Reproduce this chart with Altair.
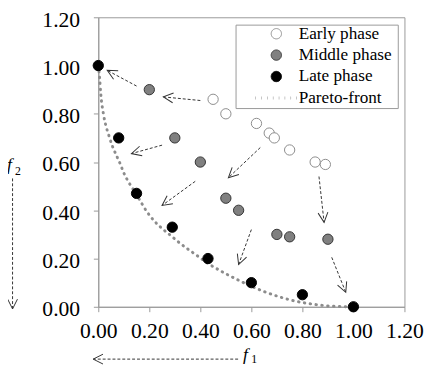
import math
import altair as alt
import pandas as pd

# ---------------- data ----------------
phases = ["Early phase", "Middle phase", "Late phase", "Pareto-front"]

early_f1 = [0.45, 0.50, 0.62, 0.67, 0.69, 0.75, 0.85, 0.89]
early_f2 = [0.86, 0.80, 0.76, 0.72, 0.70, 0.65, 0.60, 0.59]

middle_f1 = [0.20, 0.30, 0.40, 0.50, 0.55, 0.70, 0.75, 0.90]
middle_f2 = [0.90, 0.70, 0.60, 0.45, 0.40, 0.30, 0.29, 0.28]

late_f1 = [0.00, 0.08, 0.15, 0.29, 0.43, 0.60, 0.80, 1.00]
late_f2 = [1.00, 0.70, 0.47, 0.33, 0.20, 0.10, 0.05, 0.00]

front_f1 = [0.0, 0.005, 0.01, 0.02, 0.03, 0.04, 0.055, 0.07, 0.085, 0.10, 0.12,
            0.15, 0.19, 0.22, 0.255, 0.29, 0.31, 0.35, 0.39, 0.43, 0.50, 0.55,
            0.60, 0.65, 0.72, 0.77, 0.84, 0.92, 1.00]
front_f2 = [1.0, 0.95, 0.88, 0.80, 0.75, 0.715, 0.667, 0.63, 0.595, 0.555, 0.515,
            0.465, 0.395, 0.355, 0.32, 0.29, 0.272, 0.24, 0.21, 0.18, 0.137, 0.11,
            0.085, 0.063, 0.038, 0.024, 0.011, 0.002, 0.0]

# movement arrows (from -> to)
arrow_f1_from = [0.40, 0.15, 0.25, 0.635, 0.38, 0.865, 0.60, 0.915]
arrow_f2_from = [0.855, 0.915, 0.67, 0.66, 0.52, 0.54, 0.32, 0.205]
arrow_f1_to = [0.255, 0.035, 0.13, 0.51, 0.25, 0.885, 0.55, 0.97]
arrow_f2_to = [0.87, 0.98, 0.635, 0.535, 0.42, 0.35, 0.175, 0.06]

# axis direction arrows (outside the plot area)
axis_arrow_f1_from = [0.548, -0.336]
axis_arrow_f2_from = [-0.217, 0.532]
axis_arrow_f1_to = [-0.02, -0.336]
axis_arrow_f2_to = [-0.217, -0.009]

# axis names: italic f with subscript index
name_text = ["f", "f"]
name_f1 = [0.567, -0.358]
name_f2 = [-0.219, 0.565]
sub_text = ["1", "2"]
sub_f1 = [0.600, -0.326]
sub_f2 = [-0.235, 0.548]

tick_values = [0.0, 0.2, 0.4, 0.6, 0.8, 1.0, 1.2]

# ---------------- layout / styles ----------------
W, H = 312, 295
DOMAIN = [0, 1.2]
PX_X = W / (DOMAIN[1] - DOMAIN[0])
PX_Y = H / (DOMAIN[1] - DOMAIN[0])
FONT = "Liberation Serif"
GRAY = "#999999"
LEGEND_BOX = dict(left=140.4, right=305.7, top=8, bottom=93)  # px, relative to plot

fill_colors = ["#ffffff", "#808080", "#000000", "transparent"]
stroke_colors = ["#8c8c8c", "#333333", "#000000", "#8c8c8c"]

points = pd.DataFrame({
    "f1": early_f1 + middle_f1 + late_f1,
    "f2": early_f2 + middle_f2 + late_f2,
    "phase": [phases[0]] * len(early_f1) + [phases[1]] * len(middle_f1) + [phases[2]] * len(late_f1),
})
front = pd.DataFrame({"f1": front_f1, "f2": front_f2})

arrows = pd.DataFrame({
    "x0": arrow_f1_from + axis_arrow_f1_from,
    "y0": arrow_f2_from + axis_arrow_f2_from,
    "x1": arrow_f1_to + axis_arrow_f1_to,
    "y1": arrow_f2_to + axis_arrow_f2_to,
})
arrows["angle"] = [
    math.degrees(math.atan2(-(r.y1 - r.y0) * PX_Y, (r.x1 - r.x0) * PX_X)) % 360
    for r in arrows.itertuples()
]
names = pd.DataFrame({"t": name_text, "x": name_f1, "y": name_f2})
subs = pd.DataFrame({"t": sub_text, "x": sub_f1, "y": sub_f2})

xs = alt.Scale(domain=DOMAIN, nice=False, zero=False)
ys = alt.Scale(domain=DOMAIN, nice=False, zero=False)

axis_common = dict(values=tick_values, format=".2f", title=None, grid=False,
                   labelFont=FONT, labelFontSize=22, labelColor="black",
                   tickColor=GRAY, domainColor=GRAY, tickSize=5,
                   labelFlush=False, labelOverlap=False, labelBound=False)
x_axis = alt.Axis(labelPadding=9, **axis_common)
y_axis = alt.Axis(labelPadding=14, labelOffset=2, **axis_common)

X = lambda f: alt.X(f, type="quantitative", scale=xs, axis=x_axis)
Y = lambda f: alt.Y(f, type="quantitative", scale=ys, axis=y_axis)

front_line = alt.Chart(front).mark_line(
    color="#8c8c8c", strokeWidth=3, strokeDash=[0.5, 5.5], strokeCap="round",
    interpolate="monotone"
).encode(x=X("f1"), y=Y("f2"), order=alt.Order("f1:Q"))

shafts = alt.Chart(arrows).mark_rule(
    color="#333333", strokeWidth=1, strokeDash=[3, 2]
).encode(x=X("x0"), y=Y("y0"), x2="x1", y2="y1")

heads = alt.Chart(arrows).mark_point(
    shape="M-1,-0.5L0,0L-1,0.5", filled=False, size=400, color="#333333",
    strokeWidth=1, opacity=1
).encode(x=X("x1"), y=Y("y1"), angle=alt.Angle("angle:Q", scale=None))

is_front = "datum.value === 'Pareto-front'"
legend = alt.Legend(
    orient="none", legendX=172.7, legendY=8, title=None,
    padding=0, symbolSize=110, symbolOffset=0, labelOffset=14,
    labelFont=FONT, labelFontSize=17.5, labelColor="black", rowPadding=2.8,
    symbolType={"expr": f"{is_front} ? 'M-4.1,0L4.1,0' : 'circle'"},
    symbolStrokeColor={"expr": "datum.value === 'Middle phase' ? '#333333' : datum.value === 'Late phase' ? '#000000' : '#8c8c8c'"},
    symbolStrokeWidth={"expr": f"{is_front} ? 3 : 1"},
    symbolDash={"expr": f"{is_front} ? [0.5, 5.5] : [1, 0]"},
    symbolOpacity=1,
)

legend_frame = alt.Chart(pd.DataFrame({"k": [0]})).mark_rect(
    fill="transparent", stroke=GRAY, strokeWidth=1
).encode(
    x=alt.value(LEGEND_BOX["left"]), x2=alt.value(LEGEND_BOX["right"]),
    y=alt.value(LEGEND_BOX["top"]), y2=alt.value(LEGEND_BOX["bottom"]),
)

pts = alt.Chart(points).mark_point(
    shape="circle", filled=True, size=110, strokeWidth=1, opacity=1
).encode(
    x=X("f1"), y=Y("f2"),
    fill=alt.Fill("phase:N", scale=alt.Scale(domain=phases, range=fill_colors), legend=legend),
    stroke=alt.Stroke("phase:N", scale=alt.Scale(domain=phases, range=stroke_colors), legend=None),
)

name_marks = alt.Chart(names).mark_text(
    font=FONT, fontSize=18, fontStyle="italic", align="left", baseline="alphabetic", color="black"
).encode(x=X("x"), y=Y("y"), text="t:N")

sub_marks = alt.Chart(subs).mark_text(
    font=FONT, fontSize=12, align="left", baseline="alphabetic", color="black"
).encode(x=X("x"), y=Y("y"), text="t:N")

chart = alt.layer(front_line, shafts, heads, pts, legend_frame, name_marks, sub_marks).properties(
    width=W, height=H,
    autosize=alt.AutoSizeParams(type="none"),
    padding={"left": 92, "top": 6, "right": 24, "bottom": 63},
).configure_view(stroke=GRAY, strokeWidth=1)

chart.save("out.html", embed_options={"renderer": "svg", "actions": False})
